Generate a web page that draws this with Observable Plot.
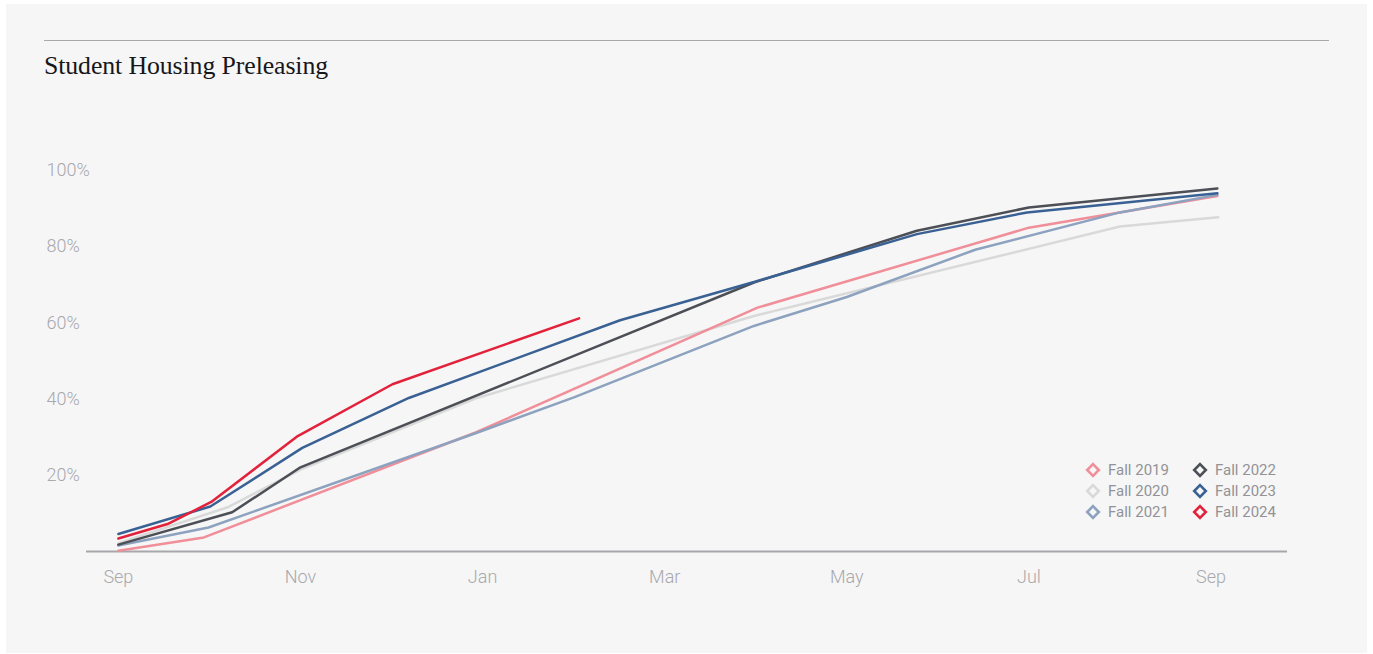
<!DOCTYPE html>
<html><head><meta charset="utf-8">
<script src="https://cdn.jsdelivr.net/npm/d3@7"></script>
<script src="https://cdn.jsdelivr.net/npm/@observablehq/plot@0.6"></script>
<style>
html,body{margin:0;padding:0;background:#fff;width:1373px;height:654px;overflow:hidden;}
#card{position:absolute;left:6px;top:4px;width:1361px;height:649px;background:#f6f6f6;}
#rule{position:absolute;left:44px;top:40px;width:1285px;height:0;border-top:1.3px solid #a9a9ad;}
#title{position:absolute;left:44px;top:53px;font-family:"Liberation Serif",serif;font-size:25.8px;line-height:26px;color:#17171b;white-space:nowrap;letter-spacing:-0.1px;}
#chart{position:absolute;left:0;top:100px;}
#legend{position:absolute;left:1085px;top:459.5px;display:grid;grid-template-columns:107px auto;grid-template-rows:repeat(3,21px);grid-auto-flow:column;font-family:Roboto,sans-serif;font-size:15px;color:#929297;}
#legend .item{display:flex;align-items:center;line-height:21px;white-space:nowrap;}
#legend svg{width:16px;height:16px;margin-right:7px;flex:none;}
</style></head>
<body>
<div id="card"></div>
<div id="rule"></div>
<div id="title">Student Housing Preleasing</div>
<div id="chart"></div>
<div id="legend"></div>
<script>
// Series names and colours
const seriesNames = ["Fall 2019", "Fall 2020", "Fall 2021", "Fall 2022", "Fall 2023", "Fall 2024"];
const seriesColors = ["#f08f9a", "#d9d9d9", "#8da2bf", "#4d4f56", "#3a6194", "#e3213a"];
// drawing order (bottom to top)
const drawOrder = ["Fall 2020", "Fall 2019", "Fall 2021", "Fall 2022", "Fall 2023", "Fall 2024"];

// x = months since September, y = % preleased
const fall2019Month = [0, 0.94, 3.93, 7.02, 10.0, 12.07];
const fall2019Pct   = [0.2, 3.7, 31.3, 64.0, 85.0, 93.3];

const fall2020Month = [0, 1.2, 2.0, 3.94, 6.98, 11.0, 12.08];
const fall2020Pct   = [2.2, 11.6, 21.5, 40.3, 61.8, 85.3, 87.7];

const fall2021Month = [0, 0.99, 3.93, 5.01, 6.98, 8.0, 9.41, 11.0, 12.07];
const fall2021Pct   = [1.6, 6.3, 31.1, 40.5, 59.2, 66.8, 79.2, 89.0, 93.6];

const fall2022Month = [0, 1.25, 2.0, 6.98, 8.77, 10.0, 12.07];
const fall2022Pct   = [1.8, 10.3, 22.1, 70.6, 84.2, 90.3, 95.3];

const fall2023Month = [0, 1.01, 2.02, 3.19, 5.51, 6.99, 8.77, 9.98, 12.07];
const fall2023Pct   = [4.6, 11.8, 27.2, 40.3, 60.7, 70.8, 83.3, 89.0, 94.0];

const fall2024Month = [0, 0.54, 1.02, 1.97, 3.01, 5.06];
const fall2024Pct   = [3.4, 7.2, 13.0, 30.3, 43.9, 61.2];

const xTickValues = [0, 2, 4, 6, 8, 10, 12];
const xTickLabels = ["Sep", "Nov", "Jan", "Mar", "May", "Jul", "Sep"];
const yTickValues = [20, 40, 60, 80, 100];
const yTickLabels = ["20%", "40%", "60%", "80%", "100%"];

const seriesData = {
  "Fall 2019": [fall2019Month, fall2019Pct],
  "Fall 2020": [fall2020Month, fall2020Pct],
  "Fall 2021": [fall2021Month, fall2021Pct],
  "Fall 2022": [fall2022Month, fall2022Pct],
  "Fall 2023": [fall2023Month, fall2023Pct],
  "Fall 2024": [fall2024Month, fall2024Pct]
};
const rows = [];
for (const name of drawOrder) {
  const [ms, vs] = seriesData[name];
  ms.forEach((m, i) => rows.push({series: name, month: m, pct: vs[i]}));
}
const yTicks = yTickValues.map((v, i) => ({v, label: yTickLabels[i]}));

const chart = Plot.plot({
  width: 1373,
  height: 554,
  marginLeft: 86,
  marginRight: 86,
  marginTop: 70,
  marginBottom: 103,
  style: {background: "transparent", fontFamily: "Roboto, sans-serif"},
  x: {domain: [-0.35, 12.84], axis: null, label: null},
  y: {domain: [0, 100], axis: null, label: null},
  color: {domain: seriesNames, range: seriesColors},
  marks: [
    Plot.ruleY([0], {stroke: "#a7a7ac", strokeWidth: 2}),
    Plot.axisX({ticks: xTickValues, tickFormat: (d) => xTickLabels[xTickValues.indexOf(d)], tickSize: 0, tickPadding: 19, fontSize: 18, fontWeight: 300, fill: "#a8a8ad", label: null}),
    Plot.text(yTicks, {y: "v", text: "label", frameAnchor: "left", textAnchor: "start", dx: -40, fontSize: 18, fontWeight: 300, fill: "#a8a8ad"}),
    Plot.line(rows, {x: "month", y: "pct", z: "series", stroke: "series", strokeWidth: 2.5, strokeLinejoin: "miter"})
  ]
});
document.getElementById("chart").appendChild(chart);

const legend = document.getElementById("legend");
seriesNames.forEach((name, i) => {
  const item = document.createElement("div");
  item.className = "item";
  item.innerHTML = `<svg viewBox="0 0 16 16"><polygon points="8,2.2 13.8,8 8,13.8 2.2,8" fill="none" stroke="${seriesColors[i]}" stroke-width="2.6"/></svg><span>${name}</span>`;
  legend.appendChild(item);
});
</script>
</body></html>
